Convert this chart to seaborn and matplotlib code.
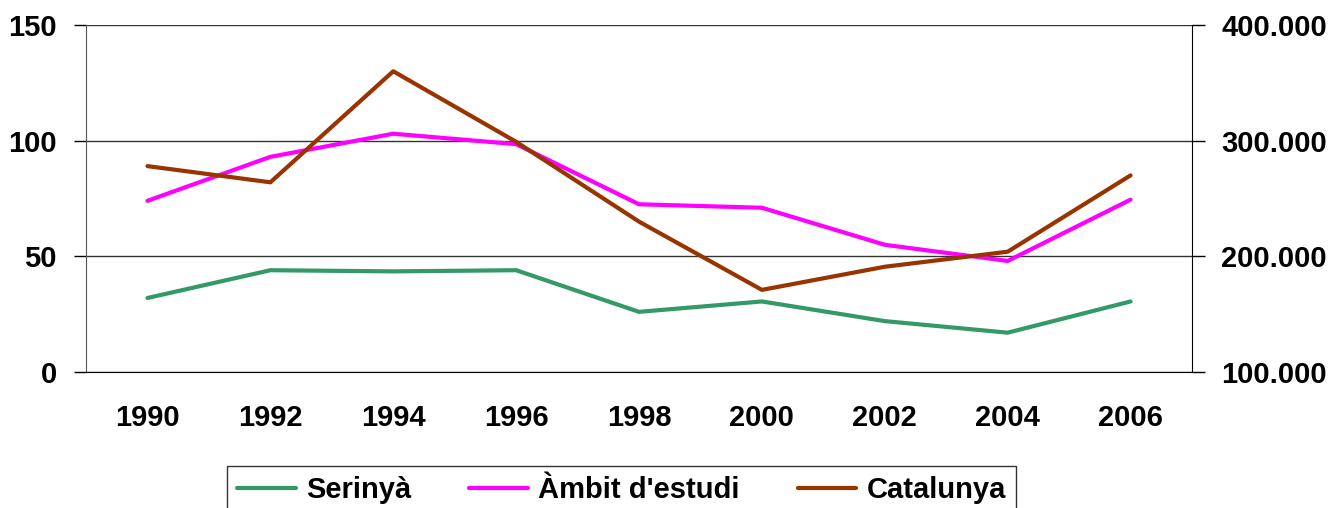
import numpy as np
import pandas as pd
import matplotlib
matplotlib.use("Agg")
import matplotlib.pyplot as plt
from matplotlib.ticker import FuncFormatter
import seaborn as sns

years = ["1990", "1992", "1994", "1996", "1998", "2000", "2002", "2004", "2006"]
serinya = [32, 44, 43.5, 44, 26, 30.5, 22, 17, 30.5]
ambit = [74, 93, 103, 98.5, 72.5, 71, 55, 48, 74.5]
catalunya = [278000, 264000, 360000, 299000, 230000, 171000, 191000, 204000, 270000]

df = pd.DataFrame({"any": years, "Serinyà": serinya,
                   "Àmbit d'estudi": ambit, "Catalunya": catalunya})

sns.set_style("white")
plt.rcParams["font.family"] = ["Liberation Sans", "DejaVu Sans"]
plt.rcParams["font.weight"] = "bold"
plt.rcParams["text.color"] = "black"
plt.rcParams["xtick.color"] = "black"
plt.rcParams["ytick.color"] = "black"

fig = plt.figure(figsize=(13.28, 5.08), dpi=100)
ax = fig.add_axes([0.0648, 0.2677, 0.8328, 0.6831])
ax2 = ax.twinx()

sns.lineplot(data=df, x="any", y="Serinyà", ax=ax, color="#339966", lw=3, label="Serinyà")
sns.lineplot(data=df, x="any", y="Àmbit d'estudi", ax=ax, color="#FF00FF", lw=3, label="Àmbit d'estudi")
sns.lineplot(data=df, x="any", y="Catalunya", ax=ax2, color="#993300", lw=3, label="Catalunya")

ax.set_ylim(0, 150)
ax.set_yticks([0, 50, 100, 150])
ax2.set_ylim(100000, 400000)
ax2.set_yticks([100000, 200000, 300000, 400000])
ax2.yaxis.set_major_formatter(FuncFormatter(lambda v, p: f"{int(v):,}".replace(",", ".")))

n = len(years)
ax.set_xlim(-0.5, n - 0.5)
ax.set_xticks(np.arange(-0.5, n, 1))
ax.set_xticklabels([])
ax.set_xticks(np.arange(n), minor=True)
ax.set_xticklabels(years, minor=True)
ax.tick_params(axis="x", which="major", direction="out", length=9, width=1, color="black")
ax.tick_params(axis="x", which="minor", length=0, pad=23, labelsize=21, labelcolor="black")
ax.tick_params(axis="y", direction="out", length=9, width=1, color="black", pad=12,
               labelsize=21, labelcolor="black")
ax2.tick_params(axis="y", direction="out", length=9, width=1, color="black", pad=12,
                labelsize=21, labelcolor="black")
ax.set_xlabel("")
ax.set_ylabel("")
ax2.set_ylabel("")

ax.yaxis.grid(True, color="#333333", lw=1)
for sp in ["top", "right"]:
    ax.spines[sp].set_visible(False)
for sp in ["top", "left", "bottom"]:
    ax2.spines[sp].set_visible(False)
ax.spines["left"].set_color("#555555")
ax.spines["bottom"].set_color("black")
ax2.spines["right"].set_color("black")

h1, l1 = ax.get_legend_handles_labels()
h2, l2 = ax2.get_legend_handles_labels()
ax.get_legend().remove()
ax2.get_legend().remove()
leg = fig.legend(h1 + h2, l1 + l2, loc="upper center", bbox_to_anchor=(0.468, 0.083),
                 ncol=3, frameon=True, fancybox=False, edgecolor="black",
                 prop={"size": 21, "weight": "bold"}, handlelength=2.0,
                 columnspacing=2.0, borderpad=0.35, handletextpad=0.35, borderaxespad=0)
leg.get_frame().set_linewidth(1)

fig.savefig("out.png", dpi=100)
